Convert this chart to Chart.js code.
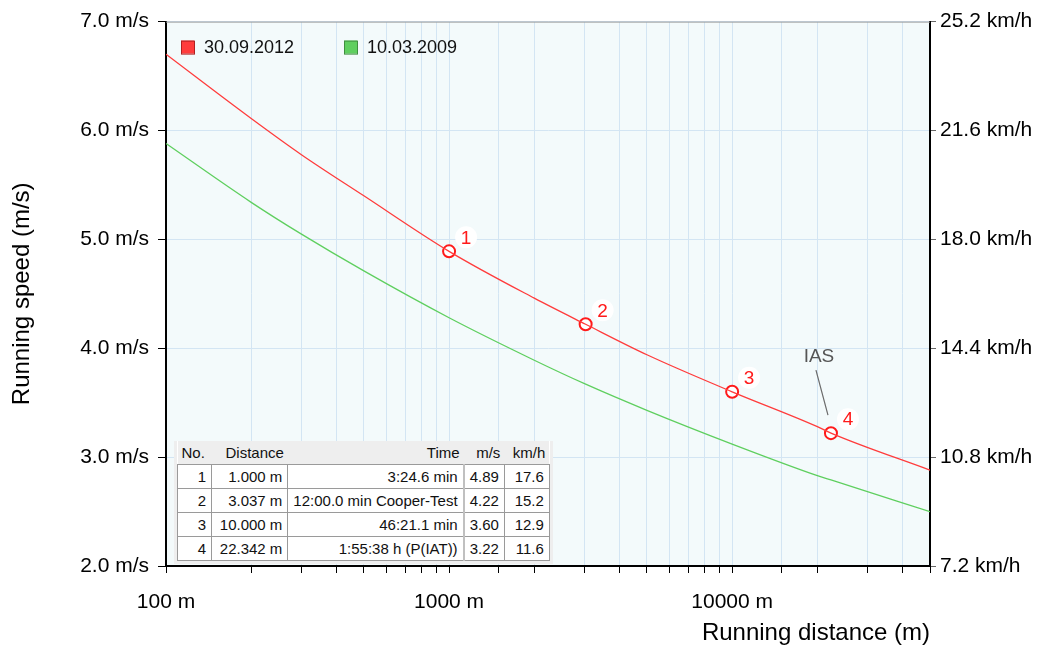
<!doctype html>
<html lang="en">
<head>
<meta charset="utf-8">
<title>Running speed vs running distance</title>
<script src="https://cdn.jsdelivr.net/npm/chart.js@4.4.1/dist/chart.umd.min.js"></script>
<style>
	html, body { margin:0; padding:0; background:#fff; }
	#wrap { position:relative; width:1045px; height:648px; }
	#tbl_box { position:absolute; left:174px; top:441px; background:#eeeeee; padding:0 3px 3px 3px;
		font:15px 'Liberation Sans', Arial, sans-serif; color:#111; }
	#tbl_box table { border-collapse:collapse; background:#fff; }
	#tbl_box th { background:#eeeeee; font-weight:normal; height:23px; padding:0 4px; white-space:nowrap; }
	#tbl_box td { border:1px solid #9a9a9a; height:23px; padding:0 5px; text-align:right; white-space:nowrap; }
	#tbl_box td.t { border-right:2px solid #c0c0c0; }
</style>
</head>
<body>
<div id="wrap">
	<canvas id="myChart" width="1045" height="648"></canvas>
	<div id="tbl_box"><table id="tbl"></table></div>
</div>
<script>
// curves
var distances = [100, 200, 300, 500, 1000, 2000, 3037, 5000, 10000, 20000, 22342, 50000];
var speed2012 = [6.70, 6.11, 5.78, 5.40, 4.89, 4.46, 4.22, 3.94, 3.60, 3.28, 3.22, 2.88];
var speed2009 = [5.88, 5.34, 5.05, 4.71, 4.28, 3.89, 3.67, 3.43, 3.12, 2.83, 2.79, 2.50];
var seriesNames = ['30.09.2012', '10.03.2009'];

// marked points + table
var markNo = ['1', '2', '3', '4'];
var markDist = [1000, 3037, 10000, 22342];
var markSpeed = [4.89, 4.22, 3.60, 3.22];
var markDistText = ['1.000 m', '3.037 m', '10.000 m', '22.342 m'];
var markTime = ['3:24.6 min', '12:00.0 min Cooper-Test', '46:21.1 min', '1:55:38 h (P(IAT))'];
var markMs = ['4.89', '4.22', '3.60', '3.22'];
var markKmh = ['17.6', '15.2', '12.9', '11.6'];

var kmhTicks = [7.2, 10.8, 14.4, 18.0, 21.6, 25.2];

var FONT = "'Liberation Sans', Arial, sans-serif";
var RED = '#ff3c3c';
var GREEN = '#5fcf5f';

function pts(xs, ys) {
	var out = [];
	for (var i = 0; i < xs.length; i++) out.push({ x: xs[i], y: ys[i] });
	return out;
}

// table
var tbl = document.getElementById('tbl');
var h = '<tr><th style="text-align:left;width:26px">No.</th><th style="text-align:left;width:58px;padding-left:14px">Distance</th>' +
	'<th style="text-align:right;width:164px">Time</th><th style="text-align:right;width:32px">m/s</th><th style="text-align:right;width:37px">km/h</th></tr>';
for (var i = 0; i < markNo.length; i++) {
	h += '<tr><td>' + markNo[i] + '</td><td>' + markDistText[i] + '</td><td class="t">' + markTime[i] +
		'</td><td>' + markMs[i] + '</td><td>' + markKmh[i] + '</td></tr>';
}
tbl.innerHTML = h;

var decor = {
	id: 'decor',
	beforeDraw: function (chart) {
		var a = chart.chartArea, c = chart.ctx;
		c.save();
		c.fillStyle = '#f3fafb';
		c.fillRect(a.left, a.top, a.right - a.left, a.bottom - a.top);
		c.restore();
	},
	afterDatasetsDraw: function (chart) {
		var a = chart.chartArea, c = chart.ctx;
		var xs = chart.scales.x, ys = chart.scales.y;
		c.save();
		// top frame
		c.strokeStyle = '#9a9a9a';
		c.lineWidth = 1;
		c.beginPath(); c.moveTo(a.left, a.top + 0.5); c.lineTo(a.right, a.top + 0.5); c.stroke();

		// point numbers
		c.font = '19px ' + FONT;
		c.textAlign = 'center';
		c.textBaseline = 'middle';
		for (var i = 0; i < markNo.length; i++) {
			var px = xs.getPixelForValue(markDist[i]) + 17;
			var py = ys.getPixelForValue(markSpeed[i]) - 14;
			c.fillStyle = '#ffffff';
			c.beginPath(); c.arc(px, py, 11, 0, Math.PI * 2); c.fill();
			c.fillStyle = '#ff1a1a';
			c.fillText(markNo[i], px, py + 1);
		}

		// IAS note at point 4
		var ix = xs.getPixelForValue(markDist[3]), iy = ys.getPixelForValue(markSpeed[3]);
		c.strokeStyle = '#6a6a6a';
		c.lineWidth = 1.2;
		c.beginPath(); c.moveTo(ix - 15, iy - 63); c.lineTo(ix - 3, iy - 18); c.stroke();
		c.fillStyle = '#555555';
		c.font = '19px ' + FONT;
		c.fillText('IAS', ix - 12, iy - 76);

		// legend
		var cols = [RED, GREEN], borders = ['#b02020', '#3f8f3f'], offs = [15, 178];
		c.font = '18px ' + FONT;
		c.textAlign = 'left';
		for (var k = 0; k < seriesNames.length; k++) {
			var lx = a.left + offs[k], ly = a.top + 19;
			c.fillStyle = cols[k];
			c.fillRect(lx, ly, 13, 13);
			c.strokeStyle = borders[k];
			c.lineWidth = 1;
			c.strokeRect(lx + 0.5, ly + 0.5, 13, 13);
			c.fillStyle = '#111';
			c.fillText(seriesNames[k], lx + 23, ly + 7);
		}
		c.restore();
	}
};

var ctx = document.getElementById('myChart').getContext('2d');
var myChart = new Chart(ctx, {
	type: 'line',
	data: {
		datasets: [{
			label: seriesNames[0],
			data: pts(distances, speed2012),
			borderColor: RED,
			borderWidth: 1.3,
			pointRadius: 0,
			cubicInterpolationMode: 'monotone'
		}, {
			label: seriesNames[1],
			data: pts(distances, speed2009),
			borderColor: GREEN,
			borderWidth: 1.3,
			pointRadius: 0,
			cubicInterpolationMode: 'monotone'
		}, {
			label: 'marks',
			data: pts(markDist, markSpeed),
			showLine: false,
			pointRadius: 6,
			pointBorderWidth: 2,
			pointBorderColor: '#ff1a1a',
			pointBackgroundColor: '#ffffff'
		}]
	},
	options: {
		responsive: false,
		animation: false,
		layout: { padding: { top: 21, left: 0, right: 0, bottom: 0 } },
		plugins: { legend: { display: false }, tooltip: { enabled: false } },
		scales: {
			x: {
				type: 'logarithmic',
				min: 100,
				max: 50000,
				afterFit: function (s) { s.height = 82; },
				grid: { color: '#d3e5f3', tickColor: '#000', tickLength: 7 },
				border: { color: '#000', width: 2 },
				ticks: {
					autoSkip: false, maxRotation: 0, padding: 17,
					color: '#000', font: { family: FONT, size: 21 },
					callback: function (v) {
						var l = Math.log10(v);
						return Math.abs(l - Math.round(l)) < 1e-9 ? v + ' m' : '';
					}
				},
				title: {
					display: true, text: 'Running distance (m)', align: 'end',
					color: '#000', font: { family: FONT, size: 24 }, padding: 0
				}
			},
			y: {
				position: 'left',
				min: 2,
				max: 7,
				afterFit: function (s) { s.width = 166; },
				grid: { color: '#d3e5f3', tickColor: '#000', tickLength: 8 },
				border: { color: '#000', width: 2 },
				ticks: {
					stepSize: 1, padding: 9, color: '#000', font: { family: FONT, size: 21 },
					callback: function (v) { return v.toFixed(1) + ' m/s'; }
				},
				title: {
					display: true, text: 'Running speed (m/s)',
					color: '#000', font: { family: FONT, size: 24 }, padding: { top: 8, bottom: 0 }
				}
			},
			y2: {
				position: 'right',
				min: 7.2,
				max: 25.2,
				afterFit: function (s) { s.width = 115; },
				afterBuildTicks: function (s) { s.ticks = kmhTicks.map(function (v) { return { value: v }; }); },
				grid: { drawOnChartArea: false, tickColor: '#666', tickLength: 6 },
				border: { color: '#000', width: 2 },
				ticks: {
					padding: 4, color: '#000', font: { family: FONT, size: 21 },
					callback: function (v) { return v.toFixed(1) + ' km/h'; }
				}
			}
		}
	},
	plugins: [decor]
});
</script>
</body>
</html>
